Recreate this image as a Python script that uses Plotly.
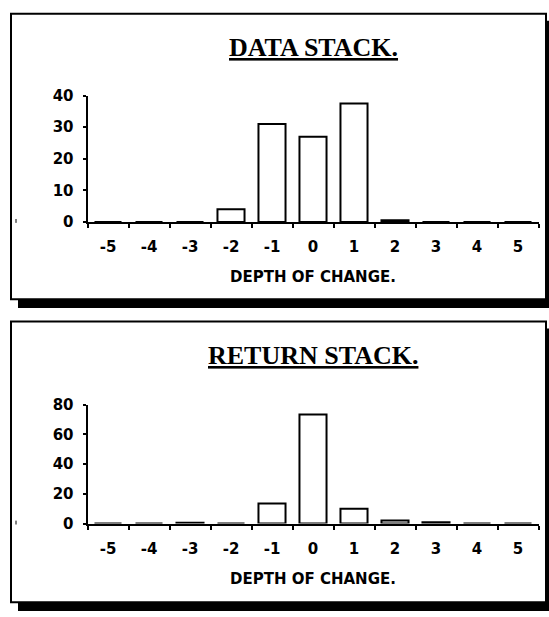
import plotly.graph_objects as go

# ---- data ----
depths = ["-5", "-4", "-3", "-2", "-1", "0", "1", "2", "3", "4", "5"]
data_stack = [0, 0, 0, 4, 31, 27, 37.5, 0.5, 0, 0, 0]
return_stack = [0, 0, 0.5, 0, 13.5, 73.5, 10, 2, 0.8, 0, 0]
titles = ["DATA STACK.", "RETURN STACK."]
x_title = "DEPTH OF CHANGE."
y_ticks_top = [0, 10, 20, 30, 40]
y_ticks_bottom = [0, 20, 40, 60, 80]

W, H = 549, 617


def px(x):
    return x / W


def py(y):
    return 1 - y / H


fig = go.Figure()
bar_style = dict(marker=dict(color="white", line=dict(color="black", width=2)),
                 showlegend=False, hoverinfo="skip")
fig.add_trace(go.Bar(x=depths, y=data_stack, xaxis="x", yaxis="y", **bar_style))
fig.add_trace(go.Bar(x=depths, y=return_stack, xaxis="x2", yaxis="y2", **bar_style))

tickfont = dict(family="DejaVu Sans", size=15, color="black", weight="bold")

xcommon = dict(type="category", showline=True, linecolor="black", linewidth=2,
               ticks="outside", ticklen=4, tickwidth=2, tickcolor="black",
               tickson="boundaries", showgrid=False, zeroline=False,
               tickfont=tickfont, ticklabelstandoff=10, fixedrange=True)
ycommon = dict(showline=True, linecolor="black", linewidth=2,
               ticks="outside", ticklen=3, tickwidth=2, tickcolor="black",
               showgrid=False, zeroline=False, tickfont=tickfont,
               ticklabelstandoff=6, fixedrange=True)

fig.update_layout(
    width=W, height=H,
    margin=dict(l=0, r=0, t=0, b=0),
    paper_bgcolor="white", plot_bgcolor="white",
    bargap=0.34,
    xaxis=dict(domain=[px(87.5), px(538.5)], anchor="y", **xcommon),
    yaxis=dict(domain=[py(219.3), py(89.3)], anchor="x", range=[0, 40],
               tickvals=y_ticks_top, **ycommon),
    xaxis2=dict(domain=[px(87.5), px(538.5)], anchor="y2", **xcommon),
    yaxis2=dict(domain=[py(530), py(407.7)], anchor="x2", range=[0, 80],
                tickvals=y_ticks_bottom, **ycommon),
)

shapes = []
# shadows and frames
for top, bot in [(5, 299), (322, 611)]:
    shapes.append(dict(type="rect", xref="paper", yref="paper",
                       x0=px(18), x1=px(556), y0=py(bot), y1=py(bot + 9),
                       fillcolor="black", line=dict(width=0), layer="below"))
    shapes.append(dict(type="rect", xref="paper", yref="paper",
                       x0=px(546), x1=px(556), y0=py(top + 7), y1=py(bot + 9),
                       fillcolor="black", line=dict(width=0), layer="below"))
    shapes.append(dict(type="rect", xref="paper", yref="paper",
                       x0=px(11), x1=px(546), y0=py(bot), y1=py(top),
                       fillcolor="white", line=dict(color="black", width=2),
                       layer="below"))
# small stray marks left of the axes
for yy in [219.3, 530]:
    shapes.append(dict(type="line", xref="paper", yref="paper",
                       x0=px(16), x1=px(16), y0=py(yy - 3), y1=py(yy + 1),
                       line=dict(color="black", width=1)))
fig.update_layout(shapes=shapes)

ann = []
for t, yc in zip(titles, [40, 357]):
    ann.append(dict(text="<u>" + t + "</u>", xref="paper", yref="paper",
                    x=px(313), y=py(yc), xanchor="center", yanchor="middle",
                    showarrow=False,
                    font=dict(family="Liberation Serif", size=26, color="black",
                              weight="bold")))
for yc in [276, 587]:
    ann.append(dict(text=x_title, xref="paper", yref="paper",
                    x=px(313), y=py(yc), xanchor="center", yanchor="middle",
                    showarrow=False,
                    font=dict(family="DejaVu Sans", size=15, color="black",
                              weight="bold")))
fig.update_layout(annotations=ann)

fig.write_html(
    "out.html",
    config={"displayModeBar": False},
    post_script="document.body.style.margin='0';document.body.style.overflow='hidden';",
)
